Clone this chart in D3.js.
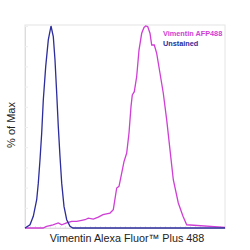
<!DOCTYPE html>
<html lang="en">
<head>
    <meta charset="UTF-8">
    <title>Vimentin histogram</title>
    <script src="https://d3js.org/d3.v7.min.js"></script>
    <style>
        body { margin: 0; background: #fff; }
    </style>
</head>
<body>
    <svg id="chart" width="250" height="250"></svg>
    <script>
        // channel (0-200) and % of max
        const unstainedX = [0, 5, 8.3, 11.7, 13.3, 15, 16.7, 18.3, 20.7, 23.3, 26, 28.3, 30, 31.7, 33.3, 35, 36.7, 39, 41.7, 45, 48, 200];
        const unstainedY = [0, 1.6, 5.8, 14.0, 22.2, 33.8, 47.0, 63.4, 79.9, 93.1, 100, 94.7, 83.2, 66.7, 50.2, 35.4, 22.2, 10.7, 4.1, 0.8, 0, 0];

        const stainedX = [0, 18, 21.7, 28, 33.3, 36.7, 41.7, 46.7, 51.7, 56.7, 60, 63.3, 68.3, 73.3, 78, 85, 88.3, 91.7, 94, 96.7, 99, 101.7, 104, 106, 107.3, 109.3, 111.7, 114, 116.7, 119, 120.7, 122.7, 125, 126.7, 129.3, 131.7, 135, 138.3, 141.7, 145, 148.3, 153.3, 158, 161.7, 200];
        const stainedY = [0, 0, 0.8, 1.6, 2.5, 1.6, 2.5, 3.3, 3.3, 3.8, 4.1, 4.9, 4.4, 5.4, 6.6, 7.4, 9.1, 19.8, 20.6, 27.2, 32.9, 37.1, 47.0, 60.1, 65.9, 67.5, 75.0, 88.1, 96.4, 99.3, 100, 99.7, 96.4, 90.6, 90.6, 86.5, 76.6, 66.7, 53.5, 38.7, 23.9, 12.4, 5.8, 1.6, 0.3, 0];

        const seriesNames = ["Vimentin AFP488", "Unstained"];
        const seriesColors = ["#cf3ed5", "#2c2c9c"];

        const svg = d3.select("#chart");
        const margin = { top: 25, right: 25, bottom: 22, left: 25 };
        const width = 250, height = 250;

        const x = d3.scaleLinear().domain([0, 200]).range([margin.left, width - margin.right]);
        const y = d3.scaleLinear().domain([0, 100]).range([height - margin.bottom, margin.top + 1]);

        // frame
        svg.append("rect")
            .attr("x", margin.left)
            .attr("y", margin.top)
            .attr("width", width - margin.left - margin.right)
            .attr("height", height - margin.top - margin.bottom)
            .attr("fill", "none")
            .attr("stroke", "#e4e4e4")
            .attr("stroke-width", 1);

        // faint ticks
        svg.append("g")
            .attr("transform", `translate(${margin.left},0)`)
            .call(d3.axisRight(y).ticks(10).tickSize(3).tickFormat(""))
            .call(g => g.select(".domain").attr("stroke", "#dcdcdc"))
            .call(g => g.selectAll(".tick line").attr("stroke", "#eeeeee"));

        svg.append("g")
            .attr("transform", `translate(0,${height - margin.bottom})`)
            .call(d3.axisTop(x).ticks(40).tickSize(2).tickFormat(""))
            .call(g => g.select(".domain").attr("stroke", "#dcdcdc"))
            .call(g => g.selectAll(".tick line").attr("stroke", "#e8e8f0"));

        const line = d3.line()
            .x(d => x(d[0]))
            .y(d => y(d[1]));

        svg.append("path")
            .datum(stainedX.map((v, i) => [v, stainedY[i]]))
            .attr("d", line)
            .attr("fill", "none")
            .attr("stroke", seriesColors[0])
            .attr("stroke-width", 1.3);

        svg.append("path")
            .datum(unstainedX.map((v, i) => [v, unstainedY[i]]))
            .attr("d", line)
            .attr("fill", "none")
            .attr("stroke", seriesColors[1])
            .attr("stroke-width", 1.3);

        // legend
        svg.selectAll(".legend")
            .data(seriesNames)
            .enter().append("text")
            .attr("class", "legend")
            .attr("x", 163)
            .attr("y", (d, i) => 36 + i * 10)
            .style("font-family", "Liberation Sans, Arial, sans-serif")
            .style("font-size", "7.3px")
            .style("font-weight", "bold")
            .attr("fill", (d, i) => seriesColors[i])
            .text(d => d);

        // axis titles
        svg.append("text")
            .attr("x", 127)
            .attr("y", 242)
            .attr("text-anchor", "middle")
            .style("font-family", "Liberation Sans, Arial, sans-serif")
            .style("font-size", "10.8px")
            .attr("fill", "#222")
            .text("Vimentin Alexa Fluor™ Plus 488");

        svg.append("text")
            .attr("transform", "translate(15,125) rotate(-90)")
            .attr("text-anchor", "middle")
            .style("font-family", "Liberation Sans, Arial, sans-serif")
            .style("font-size", "11px")
            .attr("fill", "#222")
            .text("% of Max");
    </script>
</body>
</html>
